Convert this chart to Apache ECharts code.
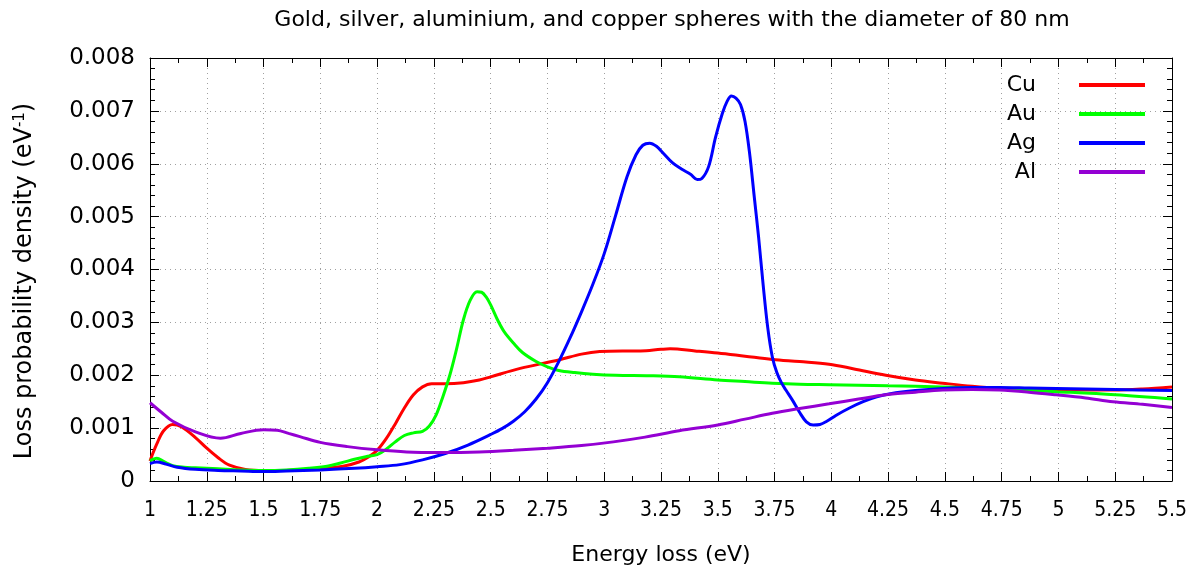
<!DOCTYPE html>
<html>
<head>
<meta charset="utf-8">
<script src="https://cdn.jsdelivr.net/npm/echarts@6/dist/echarts.min.js"></script>
<style>
  html, body { margin: 0; padding: 0; background: #fff; }
  #chart { width: 1204px; height: 572px; }
</style>
</head>
<body>
<div id="chart"></div>
<script>
// Electron energy-loss probability density for 80 nm metal spheres
const titleText = 'Gold, silver, aluminium, and copper spheres with the diameter of 80 nm';
const xTicks = { min: 1, max: 5.5, interval: 0.25 };
const yTicks = { min: 0, max: 0.008, interval: 0.001 };

const cuX = [1.0,1.03,1.06,1.1,1.14,1.2,1.25,1.3,1.35,1.42,1.5,1.6,1.75,1.85,1.92,1.96,2.0,2.04,2.08,2.12,2.16,2.2,2.24,2.3,2.38,2.45,2.5,2.63,2.8,2.9,2.98,3.08,3.16,3.25,3.29,3.4,3.5,3.62,3.74,3.86,3.99,4.1,4.24,4.37,4.49,4.62,4.74,4.87,4.99,5.12,5.24,5.37,5.5];
const cuY = [0.00038,0.0007,0.00095,0.00107,0.00102,0.00082,0.00062,0.00044,0.0003,0.00022,0.0002,0.0002,0.00024,0.00028,0.00036,0.00045,0.00058,0.0008,0.00108,0.00138,0.00163,0.00178,0.00184,0.00184,0.00186,0.00191,0.00197,0.00213,0.00229,0.0024,0.00245,0.00246,0.00246,0.00249,0.0025,0.00246,0.00242,0.00236,0.0023,0.00226,0.00221,0.00212,0.002,0.00191,0.00185,0.00179,0.00175,0.00173,0.00172,0.00172,0.00172,0.00174,0.00178];

const auX = [1.0,1.03,1.06,1.1,1.15,1.2,1.3,1.4,1.5,1.6,1.7,1.78,1.84,1.9,1.95,2.0,2.04,2.08,2.12,2.16,2.2,2.23,2.26,2.29,2.32,2.35,2.38,2.41,2.44,2.46,2.48,2.5,2.53,2.56,2.6,2.64,2.7,2.75,2.8,2.87,2.95,3.05,3.2,3.33,3.5,3.62,3.74,3.86,3.99,4.25,4.49,4.75,4.99,5.25,5.5];
const auY = [0.00038,0.00043,0.00037,0.00029,0.00026,0.00025,0.00023,0.00021,0.0002,0.00021,0.00024,0.00028,0.00034,0.00041,0.00046,0.0005,0.0006,0.00074,0.00086,0.00091,0.00094,0.00104,0.00125,0.0016,0.002,0.0025,0.00305,0.00342,0.00358,0.00357,0.00348,0.00333,0.00305,0.00282,0.00261,0.00243,0.00226,0.00216,0.00209,0.00205,0.00202,0.002,0.00199,0.00197,0.00191,0.00188,0.00185,0.00183,0.00182,0.0018,0.00178,0.00174,0.00169,0.00163,0.00155];

const agX = [1.0,1.03,1.07,1.12,1.2,1.3,1.4,1.5,1.6,1.75,1.9,2.0,2.1,2.2,2.3,2.4,2.5,2.55,2.6,2.65,2.7,2.75,2.8,2.85,2.9,2.95,3.0,3.05,3.1,3.14,3.17,3.2,3.23,3.26,3.3,3.34,3.38,3.41,3.43,3.46,3.49,3.52,3.54,3.56,3.58,3.6,3.62,3.64,3.66,3.68,3.7,3.72,3.74,3.76,3.78,3.8,3.83,3.86,3.89,3.92,3.95,3.98,4.02,4.08,4.14,4.2,4.26,4.37,4.49,4.62,4.74,4.87,4.99,5.25,5.5];
const agY = [0.00033,0.00036,0.00032,0.00026,0.00022,0.0002,0.00019,0.00018,0.00019,0.00021,0.00024,0.00027,0.00031,0.0004,0.00052,0.00068,0.00088,0.00099,0.00113,0.00131,0.00155,0.00186,0.00226,0.00271,0.0032,0.00372,0.0043,0.00502,0.00575,0.00617,0.00635,0.00639,0.00633,0.0062,0.00602,0.0059,0.0058,0.0057,0.00572,0.00595,0.0065,0.00695,0.00717,0.00728,0.00724,0.00712,0.0068,0.0062,0.0054,0.0046,0.0037,0.0029,0.00235,0.00205,0.00186,0.00172,0.00152,0.0013,0.00112,0.00106,0.00107,0.00113,0.00124,0.00138,0.0015,0.00159,0.00165,0.00171,0.00175,0.00177,0.00177,0.00176,0.00175,0.00173,0.00171];

const alX = [1.0,1.05,1.1,1.2,1.31,1.4,1.5,1.56,1.61,1.66,1.75,1.87,2.0,2.13,2.28,2.45,2.6,2.75,2.9,3.04,3.18,3.33,3.5,3.62,3.74,3.86,3.99,4.12,4.24,4.37,4.49,4.62,4.74,4.87,4.99,5.12,5.24,5.37,5.5];
const alY = [0.00148,0.0013,0.00113,0.00093,0.00081,0.0009,0.00097,0.00096,0.0009,0.00084,0.00073,0.00065,0.00059,0.00055,0.00054,0.00055,0.00058,0.00062,0.00067,0.00074,0.00083,0.00095,0.00106,0.00117,0.00128,0.00137,0.00146,0.00155,0.00163,0.00168,0.00172,0.00173,0.00172,0.00168,0.00163,0.00157,0.0015,0.00145,0.00139];

const seriesDefs = [
  { name: 'Cu', x: cuX, y: cuY, color: '#ff0000' },
  { name: 'Au', x: auX, y: auY, color: '#00ff00' },
  { name: 'Ag', x: agX, y: agY, color: '#0000ff' },
  { name: 'Al', x: alX, y: alY, color: '#9400d3' }
];

const font = 'DejaVu Sans';
const fontCond = 'DejaVu Sans Condensed';
const gridLine = { show: true, lineStyle: { color: '#a0a0a0', type: [1, 4], width: 1 } };
const frame = { show: true, onZero: false, lineStyle: { color: '#000', width: 1 } };

// bottom/left axes carry labels and grid; top/right mirror the ticks to close the frame
function xAxisDef(pos, labels) {
  return {
    type: 'value', position: pos, min: xTicks.min, max: xTicks.max, interval: xTicks.interval,
    axisLine: frame,
    axisTick: { show: true, inside: true, length: 9, lineStyle: { color: '#000' } },
    minorTick: { show: true, splitNumber: 2, length: 5, lineStyle: { color: '#000' } },
    minorSplitLine: { show: false },
    splitLine: labels ? gridLine : { show: false },
    axisLabel: labels ? { show: true, margin: 19, fontFamily: fontCond, fontSize: 21, color: '#000',
      formatter: v => String(+v.toFixed(2)) } : { show: false },
    name: labels ? 'Energy loss (eV)' : '',
    nameLocation: 'middle', nameGap: 63,
    nameTextStyle: { fontFamily: font, fontSize: 22, color: '#000' }
  };
}
function yAxisDef(pos, labels) {
  return {
    type: 'value', position: pos, min: yTicks.min, max: yTicks.max, interval: yTicks.interval,
    axisLine: frame,
    axisTick: { show: true, inside: true, length: 9, lineStyle: { color: '#000' } },
    minorTick: { show: true, splitNumber: 5, length: 5, lineStyle: { color: '#000' } },
    minorSplitLine: { show: false },
    splitLine: labels ? gridLine : { show: false },
    axisLabel: labels ? { show: true, margin: 15, fontFamily: font, fontSize: 23, color: '#000',
      formatter: v => String(+v.toFixed(3)) } : { show: false }
  };
}

const chart = echarts.init(document.getElementById('chart'), null, { renderer: 'canvas' });
chart.setOption({
  animation: false,
  backgroundColor: '#fff',
  title: {
    text: titleText, left: 667, top: 4, textAlign: 'center',
    textStyle: { fontFamily: font, fontSize: 22, fontWeight: 'normal', color: '#000' }
  },
  legend: {
    orient: 'vertical', right: 54, top: 69, align: 'right',
    icon: 'rect', itemWidth: 66, itemHeight: 4, itemGap: 7,
    textStyle: { fontFamily: font, fontSize: 22, color: '#000', padding: [0, 38, 0, 0] },
    data: seriesDefs.map(s => s.name)
  },
  grid: { left: 150, right: 32, top: 58, bottom: 91, containLabel: false },
  xAxis: [xAxisDef('bottom', true), xAxisDef('top', false)],
  yAxis: [yAxisDef('left', true), yAxisDef('right', false)],
  graphic: [{
    type: 'text', x: 25, y: 281, rotation: Math.PI / 2,
    style: {
      text: 'Loss probability density (eV{sup|-1})',
      fontFamily: font, fontSize: 24, fill: '#000', align: 'center', verticalAlign: 'middle',
      rich: { sup: { fontFamily: font, fontSize: 15, fill: '#000', verticalAlign: 'top', padding: [0, 0, 9, 0] } }
    }
  }],
  series: seriesDefs.map(s => ({
    name: s.name, type: 'line', xAxisIndex: 0, yAxisIndex: 0,
    data: s.x.map((x, i) => [x, s.y[i]]),
    smooth: 0.35, showSymbol: false, symbol: 'none',
    lineStyle: { color: s.color, width: 3 }, itemStyle: { color: s.color },
    clip: true
  }))
});
</script>
</body>
</html>
